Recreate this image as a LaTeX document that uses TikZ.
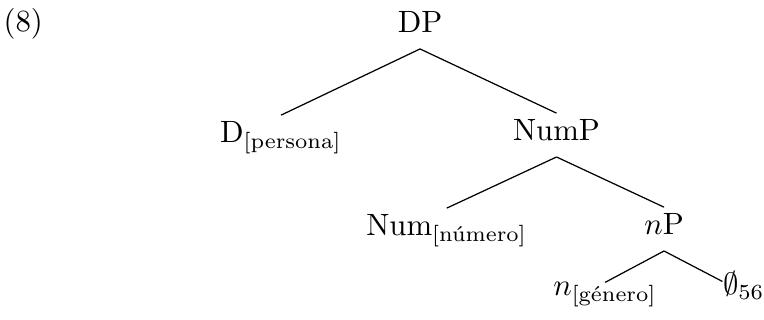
\documentclass[tikz,border=0pt]{standalone}
\usepackage{amsmath,amssymb}
\usepackage{tikz}
\usetikzlibrary{positioning,calc}
\tikzset{
  cat/.style={anchor=base, inner sep=2pt},
  phrase/.style={cat, text depth=3pt},
  leaf/.style={cat, text height=2.2pt},
  branch/.style={draw=black, line width=0.4pt},
}

\begin{document}
\begin{tikzpicture}
  \useasboundingbox (0,0) rectangle (8.72,3.652);
  \node[cat, anchor=base west] (ex) at (-0.036,3.287) {(8)};
  % tree
  \node[phrase] (DP)   at (4.794,3.276) {DP};
  \node[cat]    (D)    at (3.207,2.020) {D$_{\text{[persona]}}$};
  \node[phrase] (NumP) at (6.352,2.043) {NumP};
  \node[cat]    (Num)  at (5.099,0.959) {Num$_{\text{[número]}}$};
  \node[phrase] (nP)   at (7.579,0.970) {$n$P};
  \node[leaf]   (n)    at (6.906,0.274) {$n_{\text{[género]}}$};
  \node[leaf]   (zero) at (8.489,0.285) {$\emptyset_{56}$};
  \draw[branch] (DP.south) -- (D.north);
  \draw[branch] (DP.south) -- (NumP.north);
  \draw[branch] (NumP.south) -- (Num.north);
  \draw[branch] (NumP.south) -- (nP.north);
  \draw[branch] (nP.south) -- (n.north);
  \draw[branch] (nP.south) -- ([xshift=2pt]zero.north west);
\end{tikzpicture}
\end{document}
